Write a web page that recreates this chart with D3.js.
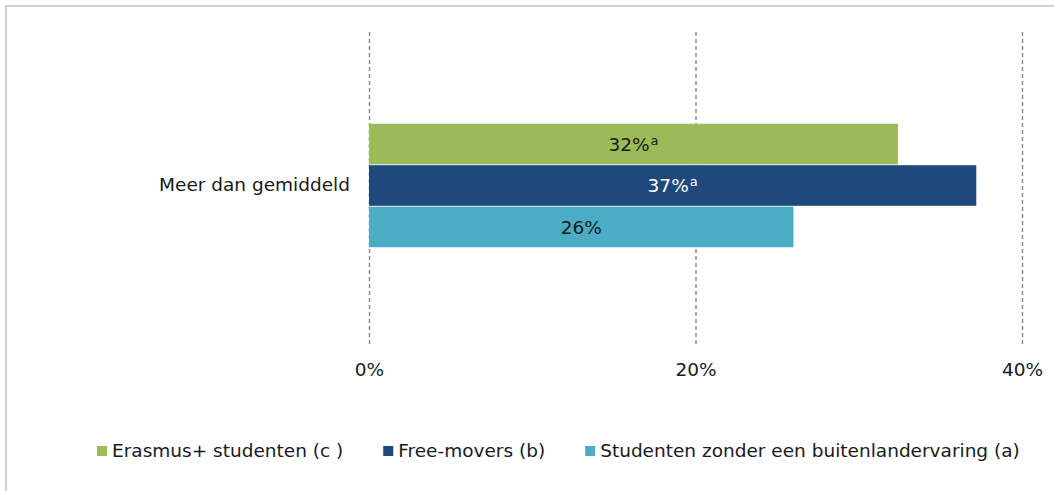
<!DOCTYPE html>
<html lang="nl">
<head>
    <meta charset="UTF-8">
    <title>Meer dan gemiddeld</title>
    <script src="https://cdn.jsdelivr.net/npm/d3@7"></script>
    <style>
        body { margin: 0; padding: 0; background: #ffffff; }
        svg text { font-family: "DejaVu Sans", sans-serif; fill: #1a1a1a; }
        .grid line { stroke: #8c8c8c; stroke-width: 1.5px; stroke-dasharray: 4 3; }
        .grid path { stroke-width: 0; }
    </style>
</head>
<body>
<div id="chart"></div>
<script>
    // data
    const categories = ["Meer dan gemiddeld"];
    const seriesNames = ["Erasmus+ studenten (c )", "Free-movers (b)", "Studenten zonder een buitenlandervaring (a)"];
    const seriesValues = [32.4, 37.2, 26.0];
    const valueLabels = ["32%", "37%", "26%"];
    const superscripts = ["a", "a", ""];
    const colors = ["#9bbb59", "#1f497d", "#4bacc6"];
    const labelColors = ["#1a1a1a", "#ffffff", "#1a1a1a"];
    const tickValues = [0, 20, 40];

    const W = 1054, H = 491;
    const margin = { top: 32, right: 32, bottom: 146, left: 369 };
    const width = W - margin.left - margin.right;
    const height = H - margin.top - margin.bottom;
    const fs = 18.5;

    const svg = d3.select("#chart").append("svg")
        .attr("width", W).attr("height", H);

    // outer frame (top and left edges visible)
    svg.append("path")
        .attr("d", "M6,491 V6 H1054")
        .attr("fill", "none")
        .attr("stroke", "#cfcfcf")
        .attr("stroke-width", 2);

    const g = svg.append("g")
        .attr("transform", "translate(" + margin.left + "," + margin.top + ")");

    const x = d3.scaleLinear().domain([0, 40]).range([0, width]);
    const y = d3.scaleBand().domain(categories).range([-6, height]).padding(0.442);
    const ySub = d3.scaleBand().domain(seriesNames).range([0, y.bandwidth()]).paddingInner(0.02);

    // dashed gridlines
    g.append("g")
        .attr("class", "grid")
        .call(d3.axisBottom(x).tickValues(tickValues).tickSize(height).tickFormat(""));

    // x axis labels
    const xAxis = g.append("g")
        .attr("transform", "translate(0," + (height + 15) + ")")
        .call(d3.axisBottom(x).tickValues(tickValues).tickSize(0).tickFormat(d => d + "%"));
    xAxis.select(".domain").remove();
    xAxis.selectAll("text").attr("font-size", fs).attr("font-family", null).attr("fill", "#1a1a1a");

    // category axis
    const yAxis = g.append("g")
        .call(d3.axisLeft(y).tickSize(0).tickPadding(19));
    yAxis.select(".domain").remove();
    yAxis.selectAll("text").attr("font-size", fs).attr("font-family", null).attr("fill", "#1a1a1a");

    // bars
    const rows = seriesNames.map((s, i) => ({ name: s, value: seriesValues[i], i: i }));
    const cat = g.append("g").attr("transform", "translate(0," + y(categories[0]) + ")");
    cat.selectAll("rect")
        .data(rows)
        .join("rect")
        .attr("x", x(0))
        .attr("y", d => ySub(d.name))
        .attr("width", d => x(d.value) - x(0))
        .attr("height", ySub.bandwidth())
        .attr("fill", d => colors[d.i]);

    const lbl = cat.selectAll("text.value")
        .data(rows)
        .join("text")
        .attr("class", "value")
        .attr("x", d => x(d.value / 2))
        .attr("y", d => ySub(d.name) + ySub.bandwidth() / 2)
        .attr("dy", "0.36em")
        .attr("text-anchor", "middle")
        .attr("font-size", fs)
        .style("fill", d => labelColors[d.i]);
    lbl.append("tspan").text(d => valueLabels[d.i]);
    lbl.append("tspan")
        .attr("font-size", 13)
        .attr("dy", "-0.45em")
        .attr("dx", 1)
        .text(d => superscripts[d.i]);

    // legend
    const legend = svg.append("g").attr("transform", "translate(0,451)");
    let lx = 97;
    seriesNames.forEach((s, i) => {
        const item = legend.append("g").attr("transform", "translate(" + lx + ",0)");
        item.append("rect").attr("x", 0).attr("y", -5).attr("width", 10).attr("height", 10).attr("fill", colors[i]);
        const t = item.append("text").attr("x", 15).attr("y", 0).attr("dy", "0.35em")
            .attr("font-size", fs).text(s);
        lx += 15 + t.node().getComputedTextLength() + 40;
    });
</script>
</body>
</html>
